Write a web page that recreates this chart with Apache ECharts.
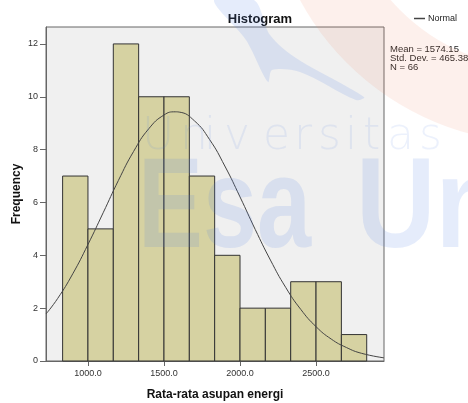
<!DOCTYPE html>
<html>
<head>
<meta charset="utf-8">
<script src="https://cdn.jsdelivr.net/npm/echarts@6/dist/echarts.min.js"></script>
<style>
  html, body { margin: 0; padding: 0; background: #fff; }
  #chart { width: 468px; height: 403px; }
</style>
</head>
<body>
<div id="chart"></div>
<script>
// histogram bins (lower edges + upper edge) and counts
const binEdges = [833.3, 1000, 1166.7, 1333.3, 1500, 1666.7, 1833.3, 2000, 2166.7, 2333.3, 2500, 2666.7, 2833.3]
const counts = [7, 5, 12, 10, 10, 7, 4, 2, 2, 3, 3, 1]

// normal curve
const curveX = [724, 800, 900, 1000, 1100, 1200, 1300, 1400, 1500, 1574, 1600, 1700, 1800, 1900, 2000, 2100, 2200, 2300, 2400, 2500, 2600, 2700, 2800, 2947]
const curveY = [1.78, 2.36, 3.30, 4.41, 5.61, 6.83, 7.93, 8.79, 9.31, 9.43, 9.42, 9.09, 8.38, 7.38, 6.21, 4.98, 3.82, 2.79, 1.95, 1.30, 0.83, 0.51, 0.29, 0.12]

const xTicks = [1000, 1500, 2000, 2500]
const yTicks = [0, 2, 4, 6, 8, 10, 12]
const statsText = ['Mean = 1574.15', 'Std. Dev. = 465.389', 'N = 66']

const font = 'Liberation Sans, Arial, sans-serif'
const wm = 'rgba(80,130,230,0.15)'

let bars = counts.map((c, i) => [binEdges[i], binEdges[i + 1], c])
let line = curveX.map((x, i) => [x, curveY[i]])

// watermark letters "Universitas"
const uniLetters = [['U', 142], ['n', 180], ['i', 204], ['v', 224], ['e', 263], ['r', 294], ['s', 318], ['i', 345], ['t', 363], ['a', 387], ['s', 419]]
let watermark = uniLetters.map(([ch, x]) => ({
  type: 'text', left: x, top: 116, z: 100, silent: true,
  style: { text: ch, font: '300 44px "DejaVu Sans", sans-serif', fill: 'rgba(80,130,230,0.11)' }
}))

const chart = echarts.init(document.getElementById('chart'))

chart.setOption({
  animation: false,
  title: {
    text: 'Histogram',
    left: 255, top: 8, textAlign: 'center',
    textStyle: { fontFamily: font, fontSize: 13, fontWeight: 'bold', color: '#111' }
  },
  legend: {
    data: [{ name: 'Normal', icon: 'rect' }],
    right: 6, top: 9,
    itemWidth: 11, itemHeight: 1.5, itemGap: 2,
    textStyle: { fontFamily: font, fontSize: 9, color: '#222', padding: [0, 0, 0, -2] }
  },
  grid: {
    left: 46, right: 84, top: 27, bottom: 42,
    outerBoundsMode: 'none',
    containLabel: false,
    show: true, backgroundColor: '#f0f0f0', borderColor: '#666', borderWidth: 1
  },
  xAxis: {
    type: 'value', min: 724, max: 2947,
    name: 'Rata-rata asupan energi', nameLocation: 'middle', nameGap: 28,
    nameMoveOverlap: false,
    nameTextStyle: { fontFamily: font, fontSize: 12, fontWeight: 'bold', color: '#111' },
    splitLine: { show: false },
    axisLine: { lineStyle: { color: '#666' } },
    axisTick: { show: true, length: 5, customValues: xTicks, lineStyle: { color: '#666' } },
    axisLabel: {
      customValues: xTicks, margin: 8,
      fontFamily: font, fontSize: 9, color: '#333',
      formatter: v => v.toFixed(1)
    }
  },
  yAxis: {
    type: 'value', min: 0, max: 12.64,
    name: 'Frequency', nameLocation: 'middle', nameGap: 23, nameRotate: 90,
    nameMoveOverlap: false,
    nameTextStyle: { fontFamily: font, fontSize: 12, fontWeight: 'bold', color: '#111' },
    splitLine: { show: false },
    axisLine: { show: true, lineStyle: { color: '#666' } },
    axisTick: { show: true, length: 6, customValues: yTicks, lineStyle: { color: '#666' } },
    axisLabel: { customValues: yTicks, margin: 8, fontFamily: font, fontSize: 9, color: '#333' }
  },
  series: [
    {
      type: 'custom',
      name: 'Frequency',
      encode: { x: [0, 1], y: 2 },
      data: bars,
      renderItem: (params, api) => {
        const p0 = api.coord([api.value(0), 0])
        const p1 = api.coord([api.value(1), api.value(2)])
        return {
          type: 'rect',
          shape: { x: p0[0], y: p1[1], width: p1[0] - p0[0], height: p0[1] - p1[1] },
          style: { fill: '#d6d2a2', stroke: '#333', lineWidth: 1 }
        }
      },
      z: 2
    },
    {
      type: 'line',
      name: 'Normal',
      data: line,
      smooth: true,
      showSymbol: false,
      color: '#444',
      lineStyle: { width: 1, color: '#444' },
      z: 3
    }
  ],
  graphic: [
    {
      type: 'text', left: 390, top: 44,
      style: { text: statsText.join('\n'), font: '9.5px ' + font, fill: '#222', lineHeight: 9 }
    },
    // watermark: red arc
    {
      type: 'ring', z: 100, silent: true,
      shape: { cx: 540, cy: -130, r: 273, r0: 198 },
      style: { fill: 'rgba(240,140,110,0.13)' }
    },
    // watermark: blue swoosh
    {
      type: 'polygon', z: 100, silent: true,
      shape: {
        points: [[214, 0], [254, 0], [270, 35], [296, 58], [364, 97], [356, 100], [300, 72], [272, 70], [268, 82], [246, 40]],
        smooth: 0.3
      },
      style: { fill: 'rgba(80,130,230,0.15)' }
    },
    {
      type: 'text', left: 138, top: 148, z: 100, silent: true, scaleX: 0.76,
      style: { text: 'Esa', font: 'bold 128px ' + font, fill: wm }
    },
    {
      type: 'text', left: 356, top: 148, z: 100, silent: true, scaleX: 0.86,
      style: { text: 'Un', font: 'bold 128px ' + font, fill: wm }
    },
    ...watermark
  ]
})
</script>
</body>
</html>
